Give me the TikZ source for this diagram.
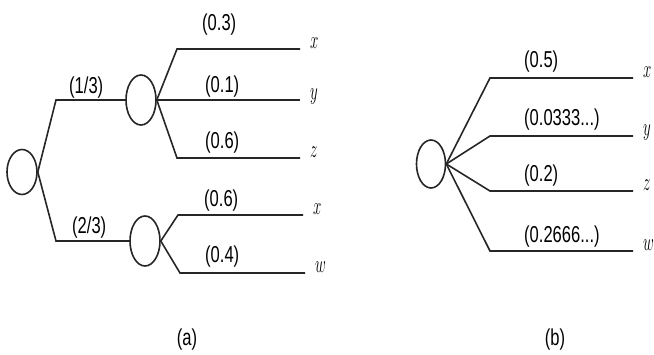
\documentclass[tikz,border=0pt]{standalone}
\usepackage{fontspec}
\usepackage{graphicx}
\usepackage{tikz}
\usetikzlibrary{shapes.geometric, positioning}
\newfontfamily\labelfont{Liberation Sans}
\newcommand{\plabel}[1]{\scalebox{0.72}[1]{#1}}
\newcommand{\lvar}[1]{\scalebox{0.6}[1]{$#1$}}

\begin{document}
\begin{tikzpicture}[
        x=1pt, y=-1pt,
        chance/.style={ellipse, draw=black!85, line width=1.6pt, minimum width=30pt, minimum height=50pt, inner sep=0pt},
        line/.style={draw, line width=1.6pt, black!85},
        prob/.style={anchor=west, inner sep=0pt, font=\labelfont\fontsize{23}{25}\selectfont},
        leaf/.style={anchor=mid west, inner xsep=10pt, inner ysep=0pt, font=\fontsize{27}{29}\selectfont},
        tag/.style={font=\labelfont\fontsize{23}{25}\selectfont}
    ]
        \useasboundingbox (0,0) rectangle (654,355);

        % (a) two-stage tree
        \node [chance, minimum height=45pt] (root) at (22,172) {};
        \node [chance] (ca) at (141,100) {};
        \node [chance] (cb) at (145,241) {};
        \coordinate (ra) at (56,100);
        \coordinate (rb) at (56,241);
        \coordinate (ax) at (177,49);
        \coordinate (az) at (177,158);
        \coordinate (bx) at (178,215);
        \coordinate (bw) at (180,273);

        \node [leaf] (lax) at (300,46) {\lvar{x}};
        \node [leaf] (lay) at (300,97) {\lvar{y}};
        \node [leaf] (laz) at (300,155) {\lvar{z}};
        \node [leaf] (lbx) at (303,212) {\lvar{x}};
        \node [leaf] (lbw) at (305,270) {\lvar{w}};

        \path [line] (root.east) -- (ra) -- (ca);
        \path [line] (root.east) -- (rb) -- (cb);
        \path [line] (ca.east) -- (ax) -- (ax -| lax.west);
        \path [line] (ca.east) -- (ca.east -| lay.west);
        \path [line] (ca.east) -- (az) -- (az -| laz.west);
        \path [line] (cb.east) -- (bx) -- (bx -| lbx.west);
        \path [line] (cb.east) -- (bw) -- (bw -| lbw.west);

        \node [prob] (p13) at (69,88) {\plabel{(1/3)}};
        \node [prob] (p23) at (72,228) {\plabel{(2/3)}};
        \node [prob] (pax) at (202,25) {\plabel{(0.3)}};
        \node [prob] (pay) at (205,87) {\plabel{(0.1)}};
        \node [prob] (paz) at (205,143) {\plabel{(0.6)}};
        \node [prob] (pbx) at (204,201) {\plabel{(0.6)}};
        \node [prob] (pbw) at (205,257) {\plabel{(0.4)}};

        \node [tag] (capa) at (187,340) {\plabel{(a)}};

        % (b) collapsed tree
        \node [chance, minimum width=29pt, minimum height=48pt] (top) at (431,164) {};
        \coordinate (tx) at (490,78);
        \coordinate (ty) at (490,136);
        \coordinate (tz) at (490,191);
        \coordinate (tw) at (490,251);

        \node [leaf] (ltx) at (633,75) {\lvar{x}};
        \node [leaf] (lty) at (633,133) {\lvar{y}};
        \node [leaf] (ltz) at (633,188) {\lvar{z}};
        \node [leaf] (ltw) at (633,248) {\lvar{w}};

        \path [line] (top.east) -- (tx) -- (tx -| ltx.west);
        \path [line] (top.east) -- (ty) -- (ty -| lty.west);
        \path [line] (top.east) -- (tz) -- (tz -| ltz.west);
        \path [line] (top.east) -- (tw) -- (tw -| ltw.west);

        \node [prob] (ptx) at (524,62) {\plabel{(0.5)}};
        \node [prob] (pty) at (524,120) {\plabel{(0.0333...)}};
        \node [prob] (ptz) at (524,176) {\plabel{(0.2)}};
        \node [prob] (ptw) at (524,237) {\plabel{(0.2666...)}};

        \node [tag] (capb) at (555,340) {\plabel{(b)}};
    \end{tikzpicture}
\end{document}
